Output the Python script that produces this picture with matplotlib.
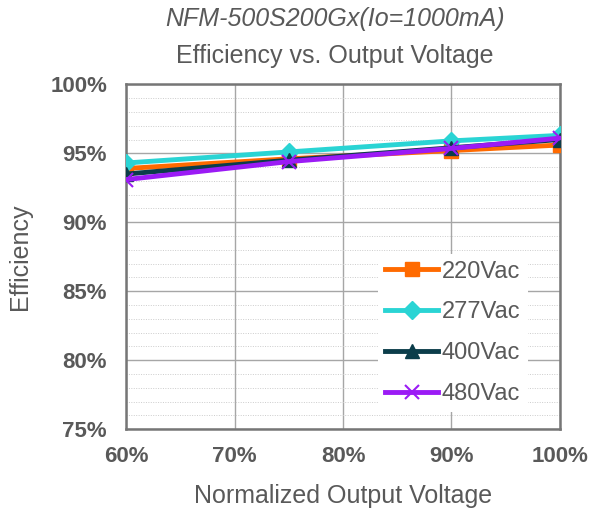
import matplotlib
matplotlib.use('Agg')
import matplotlib.pyplot as plt
from matplotlib.ticker import MultipleLocator, FuncFormatter

plt.rcParams['font.family'] = ['Liberation Sans', 'DejaVu Sans']

# normalized output voltage (%)
voltage = [60, 75, 90, 100]

# efficiency (%) per input voltage
eff_220 = [93.9, 94.6, 95.2, 95.6]
eff_277 = [94.3, 95.1, 95.9, 96.3]
eff_400 = [93.5, 94.5, 95.4, 96.0]
eff_480 = [93.1, 94.4, 95.35, 96.1]

labels = ['220Vac', '277Vac', '400Vac', '480Vac']
grey = '#595959'

fig = plt.figure(figsize=(5.91, 5.11), dpi=100)
ax = fig.add_axes([0.214, 0.16, 0.733, 0.675])

ax.plot(voltage, eff_220, color='#ff6a00', lw=3.5, marker='s', ms=10, label=labels[0], zorder=3)
ax.plot(voltage, eff_277, color='#2ad4d4', lw=3.5, marker='D', ms=9, label=labels[1], zorder=4)
ax.plot(voltage, eff_400, color='#0b3d4a', lw=3.5, marker='^', ms=10, label=labels[2], zorder=5)
ax.plot(voltage, eff_480, color='#9b1bf5', lw=3.5, marker='x', ms=10, mew=1.5, label=labels[3], zorder=6)

ax.set_xlim(60, 100)
ax.set_ylim(75, 100)
ax.xaxis.set_major_locator(MultipleLocator(10))
ax.yaxis.set_major_locator(MultipleLocator(5))
ax.yaxis.set_minor_locator(MultipleLocator(1))
pct = FuncFormatter(lambda v, p: '%d%%' % v)
ax.xaxis.set_major_formatter(pct)
ax.yaxis.set_major_formatter(pct)

ax.grid(which='major', color='#a6a6a6', lw=1.0)
ax.grid(which='minor', axis='y', color='#cccccc', lw=0.7, ls=(0, (1, 1.5)))
ax.set_axisbelow(True)

for s in ax.spines.values():
    s.set_color('#767676')
    s.set_linewidth(1.8)

ax.tick_params(which='both', length=0)
ax.tick_params(axis='x', pad=12)
ax.tick_params(axis='y', pad=14)
for t in ax.get_xticklabels() + ax.get_yticklabels():
    t.set_fontweight('bold')
    t.set_fontsize(16)
    t.set_color(grey)

ax.set_xlabel('Normalized Output Voltage', fontsize=18, color=grey, labelpad=12)
ax.set_ylabel('Efficiency', fontsize=18, color=grey, labelpad=13)

fig.text(0.567, 0.962, 'NFM-500S200Gx(Io=1000mA)', ha='center', va='center',
         fontsize=18, style='italic', color=grey)
fig.text(0.567, 0.89, 'Efficiency vs. Output Voltage', ha='center', va='center',
         fontsize=18, color=grey)

leg = ax.legend(loc='lower right', bbox_to_anchor=(0.926, 0.049), borderaxespad=0,
                frameon=True, fancybox=False, edgecolor='none', framealpha=1, fontsize=17,
                handlelength=2.25, labelspacing=0.8, borderpad=0.3, handletextpad=0.15)
for t in leg.get_texts():
    t.set_color(grey)

fig.savefig('out.png', dpi=100)
